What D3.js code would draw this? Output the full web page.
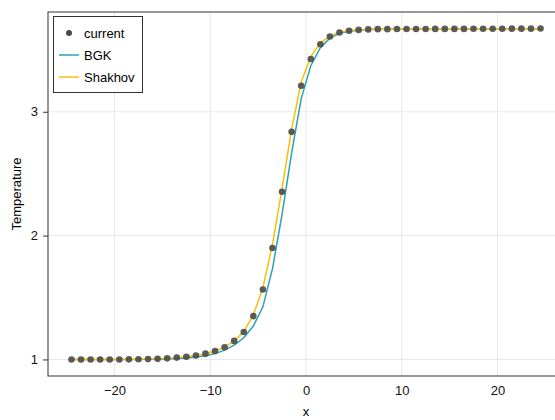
<!DOCTYPE html>
<html>
<head>
<meta charset="utf-8">
<script src="https://cdn.jsdelivr.net/npm/d3@7"></script>
<style>
  body { margin: 0; background: #fff; }
  svg { display: block; font-family: "Liberation Sans", Arial, sans-serif; }
</style>
</head>
<body>
<div id="chart"></div>
<script>
// shock structure, Ma = 3
var xs = [-24.5, -23.5, -22.5, -21.5, -20.5, -19.5, -18.5, -17.5, -16.5, -15.5,
  -14.5, -13.5, -12.5, -11.5, -10.5, -9.5, -8.5, -7.5, -6.5, -5.5,
  -4.5, -3.5, -2.5, -1.5, -0.5, 0.5, 1.5, 2.5, 3.5, 4.5,
  5.5, 6.5, 7.5, 8.5, 9.5, 10.5, 11.5, 12.5, 13.5, 14.5,
  15.5, 16.5, 17.5, 18.5, 19.5, 20.5, 21.5, 22.5, 23.5, 24.5];

var current = [1.000, 1.000, 1.000, 1.000, 1.000, 1.000, 1.001, 1.002, 1.003, 1.005,
  1.009, 1.015, 1.022, 1.032, 1.047, 1.068, 1.098, 1.150, 1.222, 1.350,
  1.565, 1.900, 2.354, 2.838, 3.210, 3.426, 3.545, 3.608, 3.640, 3.654,
  3.661, 3.665, 3.667, 3.667, 3.668, 3.668, 3.668, 3.668, 3.669, 3.669,
  3.669, 3.669, 3.670, 3.670, 3.670, 3.670, 3.671, 3.671, 3.671, 3.672];

var bgk = [1.000, 1.000, 1.000, 1.000, 1.000, 1.000, 1.000, 1.000, 1.001, 1.002,
  1.004, 1.007, 1.012, 1.020, 1.030, 1.047, 1.075, 1.115, 1.175, 1.270,
  1.425, 1.733, 2.172, 2.669, 3.106, 3.372, 3.517, 3.594, 3.633, 3.651,
  3.659, 3.664, 3.666, 3.667, 3.667, 3.667, 3.667, 3.667, 3.667, 3.667,
  3.667, 3.667, 3.667, 3.667, 3.667, 3.667, 3.667, 3.667, 3.667, 3.667];

var shakhov = [1.000, 1.000, 1.000, 1.000, 1.000, 1.000, 1.001, 1.002, 1.003, 1.005,
  1.009, 1.014, 1.021, 1.031, 1.046, 1.068, 1.100, 1.150, 1.225, 1.360,
  1.580, 1.930, 2.380, 2.860, 3.240, 3.445, 3.555, 3.613, 3.643, 3.656,
  3.662, 3.665, 3.666, 3.667, 3.667, 3.667, 3.667, 3.667, 3.667, 3.667,
  3.667, 3.667, 3.667, 3.667, 3.667, 3.667, 3.667, 3.667, 3.667, 3.667];

var xTicks = [-20, -10, 0, 10, 20];
var yTicks = [1, 2, 3];

var seriesNames = ["current", "BGK", "Shakhov"];
var colors = {current: "#4a4a4a", BGK: "#2aa3b7", Shakhov: "#fbbf0a"};

var width = 555, height = 420;
var plotLeft = 48, plotTop = 12, plotRight = 564, plotBottom = 376;

var svg = d3.select("#chart").append("svg")
  .attr("width", width)
  .attr("height", height);

// limits with 5% padding, like the original plot
var xPad = (d3.max(xs) - d3.min(xs)) * 0.05;
var yMin = d3.min(current), yMax = d3.max(current);
var yPad = (yMax - yMin) * 0.05;

var x = d3.scaleLinear()
  .domain([d3.min(xs) - xPad, d3.max(xs) + xPad])
  .range([plotLeft, plotRight]);
var y = d3.scaleLinear()
  .domain([yMin - yPad, yMax + yPad])
  .range([plotBottom, plotTop]);

// grid
svg.append("g").selectAll("line")
  .data(xTicks).enter().append("line")
  .attr("x1", d => x(d)).attr("x2", d => x(d))
  .attr("y1", plotTop).attr("y2", plotBottom)
  .attr("stroke", "#e8e8e8").attr("stroke-width", 1);
svg.append("g").selectAll("line")
  .data(yTicks).enter().append("line")
  .attr("x1", plotLeft).attr("x2", plotRight)
  .attr("y1", d => y(d)).attr("y2", d => y(d))
  .attr("stroke", "#e8e8e8").attr("stroke-width", 1);

// axes
var xAxis = svg.append("g")
  .attr("transform", "translate(0," + plotBottom + ")")
  .call(d3.axisBottom(x).tickValues(xTicks).tickSize(0).tickPadding(10)
    .tickFormat(d => d < 0 ? "\u2212" + Math.abs(d) : d));
var yAxis = svg.append("g")
  .attr("transform", "translate(" + plotLeft + ",0)")
  .call(d3.axisLeft(y).tickValues(yTicks).tickSize(5).tickPadding(5)
    .tickFormat(d3.format("d")));

[xAxis, yAxis].forEach(function(g) {
  g.select(".domain").remove();
  g.selectAll("text").attr("font-size", 13).attr("fill", "#111")
    .attr("font-family", "Liberation Sans, Arial, sans-serif");
  g.selectAll("line").attr("stroke", "#333");
});

// frame
svg.append("rect")
  .attr("x", plotLeft).attr("y", plotTop)
  .attr("width", plotRight - plotLeft).attr("height", plotBottom - plotTop)
  .attr("fill", "none").attr("stroke", "#333").attr("stroke-width", 1);

// labels
svg.append("text")
  .attr("x", 306).attr("y", 416)
  .attr("text-anchor", "middle").attr("font-size", 13)
  .text("x");
svg.append("text")
  .attr("transform", "translate(21," + ((plotTop + plotBottom) / 2) + ") rotate(-90)")
  .attr("text-anchor", "middle").attr("font-size", 13)
  .text("Temperature");

// lines
var line = d3.line()
  .x((d, i) => x(xs[i]))
  .y(d => y(d));

svg.append("path").datum(bgk)
  .attr("d", line).attr("fill", "none")
  .attr("stroke", colors.BGK).attr("stroke-width", 1.5);
svg.append("path").datum(shakhov)
  .attr("d", line).attr("fill", "none")
  .attr("stroke", colors.Shakhov).attr("stroke-width", 1.5);

// points
svg.append("g").selectAll("circle")
  .data(current).enter().append("circle")
  .attr("cx", (d, i) => x(xs[i]))
  .attr("cy", d => y(d))
  .attr("r", 3.3)
  .attr("fill", colors.current)
  .attr("fill-opacity", 0.9);

// legend
var lg = svg.append("g");
lg.append("rect")
  .attr("x", 53.5).attr("y", 16.5)
  .attr("width", 89).attr("height", 76)
  .attr("fill", "#fff").attr("stroke", "#333").attr("stroke-width", 1);

var rows = lg.selectAll("g.row")
  .data(seriesNames).enter().append("g")
  .attr("class", "row")
  .attr("transform", (d, i) => "translate(0," + (33 + i * 22) + ")");

rows.each(function(d) {
  var g = d3.select(this);
  if (d == "current") {
    g.append("circle").attr("cx", 69).attr("cy", 0).attr("r", 3)
      .attr("fill", colors.current);
  } else {
    g.append("line").attr("x1", 59).attr("x2", 79)
      .attr("y1", 0).attr("y2", 0)
      .attr("stroke", colors[d]).attr("stroke-width", 1.5);
  }
  g.append("text").attr("x", 84).attr("y", 0)
    .attr("dy", "0.35em").attr("font-size", 13)
    .text(d);
});
</script>
</body>
</html>
